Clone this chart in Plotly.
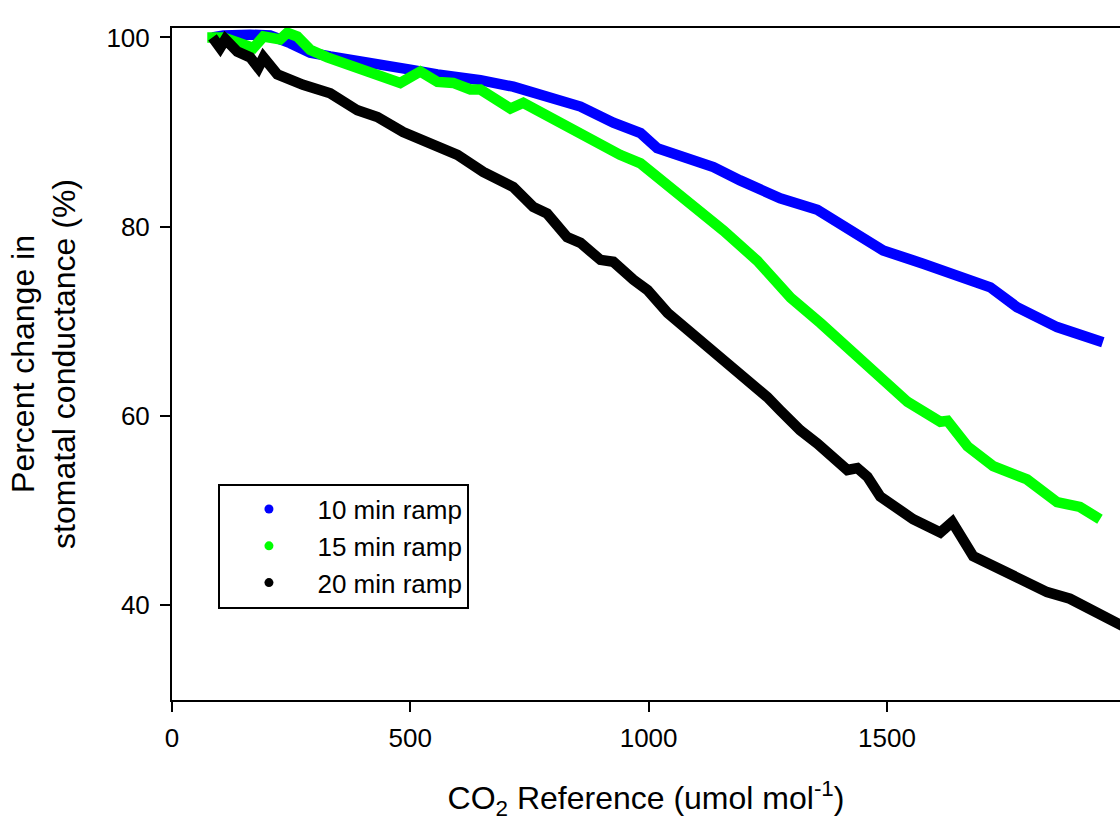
import plotly.graph_objects as go

# 10 min ramp (blue)
x10 = [85, 108, 164, 206, 248, 290, 332, 389, 452, 500, 557, 626, 647, 716, 787, 857, 926,
       983, 1018, 1073, 1136, 1192, 1276, 1354, 1429, 1492, 1576, 1654, 1717, 1773, 1857, 1953]
y10 = [100.0, 100.2, 100.3, 100.2, 99.4, 98.4, 98.0, 97.6, 97.1, 96.6, 96.1, 95.7, 95.5, 94.8,
       93.6, 92.7, 91.0, 89.9, 88.3, 87.3, 86.3, 84.9, 83.0, 81.8, 79.6, 77.5, 76.1, 74.7, 73.6,
       71.5, 69.4, 67.8]

# 15 min ramp (green)
x15 = [74, 108, 171, 192, 227, 242, 263, 290, 326, 374, 416, 479, 521, 557, 590, 626, 647, 683,
       710, 737, 808, 877, 940, 983, 1018, 1087, 1157, 1228, 1298, 1361, 1438, 1486, 1543, 1612,
       1627, 1669, 1723, 1794, 1857, 1905, 1947]
y15 = [100.0, 100.0, 98.9, 100.1, 99.8, 100.5, 100.1, 98.7, 97.9, 97.1, 96.5, 95.2, 96.4, 95.3,
       95.2, 94.5, 94.5, 93.2, 92.5, 93.1, 91.1, 89.4, 87.6, 86.7, 85.3, 82.4, 79.6, 76.4, 72.5,
       69.8, 66.2, 63.8, 61.5, 59.4, 59.5, 56.8, 54.7, 53.3, 50.9, 50.4, 49.1]

# 20 min ramp (black)
x20 = [85, 101, 112, 137, 164, 181, 192, 221, 275, 332, 389, 431, 485, 557, 599, 653, 689, 716,
       758, 787, 829, 857, 899, 926, 968, 998, 1040, 1109, 1178, 1249, 1276, 1318, 1354, 1388,
       1417, 1438, 1459, 1486, 1555, 1612, 1637, 1681, 1765, 1836, 1884, 1975, 1995]
y20 = [100.0, 98.9, 99.8, 98.5, 97.9, 96.8, 97.9, 96.1, 95.0, 94.1, 92.3, 91.6, 90.0, 88.6, 87.6,
       85.8, 85.0, 84.2, 82.1, 81.4, 78.9, 78.3, 76.5, 76.3, 74.4, 73.3, 70.9, 68.0, 64.8, 62.0,
       60.6, 58.5, 57.1, 55.7, 54.3, 54.5, 53.6, 51.5, 49.1, 47.7, 48.8, 45.2, 43.1, 41.4, 40.7,
       38.3, 37.8]

names = ["10 min ramp", "15 min ramp", "20 min ramp"]
colors = ["#0000FF", "#00FF00", "#000000"]
x_ticks = [0, 500, 1000, 1500, 2000]
y_ticks = [40, 60, 80, 100]

FONT = "Liberation Sans, Arial, sans-serif"

fig = go.Figure()
for xs, ys, c, n in zip([x10, x15, x20], [y10, y15, y20], colors, names):
    fig.add_trace(go.Scatter(x=xs, y=ys, mode="lines", name=n, showlegend=False,
                             line=dict(color=c, width=10.5, shape="linear"),
                             hoverinfo="x+y"))
for c, n in zip(colors, names):
    fig.add_trace(go.Scatter(x=[None], y=[None], mode="markers", name=n,
                             marker=dict(color=c, size=9)))

fig.update_layout(
    width=1120, height=821,
    margin=dict(l=172, r=0, t=28, b=121, autoexpand=False),
    paper_bgcolor="white", plot_bgcolor="white",
    font=dict(family=FONT, color="black", size=26),
    legend=dict(x=0.049, y=0.322, xanchor="left", yanchor="top",
                bordercolor="black", borderwidth=2, bgcolor="white",
                font=dict(size=26), itemwidth=87, tracegroupgap=0),
)
fig.update_xaxes(
    range=[0, 1989], tickvals=x_ticks, showgrid=False, zeroline=False,
    showline=True, linecolor="black", linewidth=2, mirror=True,
    ticks="outside", ticklen=10, tickwidth=2, tickcolor="black",
    tickfont=dict(size=26), ticklabelstandoff=4, automargin=False,
    title=dict(text="CO<sub>2</sub> Reference (umol mol<sup>-1</sup>)",
               font=dict(size=32), standoff=35),
)
fig.update_yaxes(
    range=[30, 101], tickvals=y_ticks, showgrid=False, zeroline=False,
    showline=True, linecolor="black", linewidth=2, mirror=False,
    ticks="outside", ticklen=10, tickwidth=2, tickcolor="black",
    tickfont=dict(size=26), ticklabelstandoff=5, automargin=False,
    title=dict(text="Percent change in<br>stomatal conductance (%)",
               font=dict(size=32), standoff=21),
)

fig.write_html("out.html", config={"displayModeBar": False},
               post_script="document.body.style.margin='0';document.body.style.overflow='hidden';")
